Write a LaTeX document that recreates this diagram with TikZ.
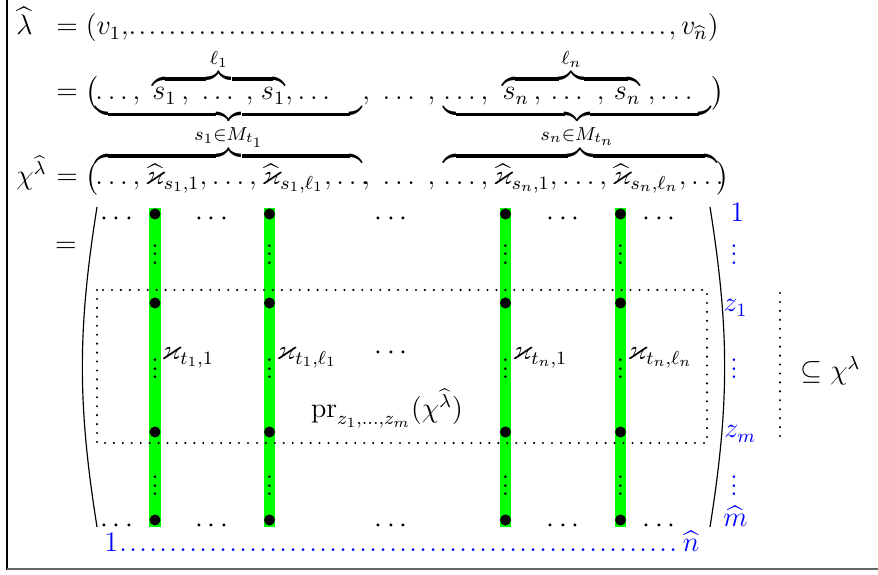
\documentclass[12pt,tikz,border=0pt]{standalone}
\usepackage{amsmath,amssymb}
\usepackage{graphicx}
\usepackage{tikz}
\usetikzlibrary{positioning,calc}
\newcommand{\dotrow}[1]{\hbox to #1{\leaders\hbox to 4.25pt{\hss.\hss}\hfill}}
\newcommand{\smallvdots}{\scalebox{0.95}{$\vdots$}}
\tikzset{
  mathrow/.style ={anchor=base west, inner sep=0pt},
  colbar/.style  ={green, line width=4.7pt},
  entry/.style   ={circle, fill=black, inner sep=0pt, minimum size=4.7pt},
  mdots/.style   ={anchor=base, inner sep=0pt},
  vdotnode/.style={inner sep=0pt},
  idxlabel/.style={text=blue, inner sep=0pt},
  boxdots/.style ={line width=1pt, line cap=round, dash pattern=on 0pt off 3.8pt},
  bigparen/.style={line width=0.5pt},
}

\begin{document}
\begin{tikzpicture}[x=0.425pt,y=-0.425pt]
  \useasboundingbox (0,0) rectangle (878,575);
  % frame
  \draw[line width=0.85pt] (7,0) -- (7,570);
  \draw[line width=0.85pt, black!60] (7,569.5) -- (878,569.5);

  % first line
  \node[mathrow] (lamhat) at (16,35) {$\widehat{\lambda}$};
  \node[mathrow] (eqA) at (56,35) {$=(v_1,$};
  \node[mathrow] (dotsA) at (127,35) {\dotrow{232pt}};
  \node[anchor=base east, inner sep=0pt] (endA) at (719,35) {$,v_{\widehat{n}})$};

  % second line
  \node[mathrow] (eqB) at (56,100) {$=\bigl($};
  \node[mathrow] (grpB1) at (95,100)
    {$\underbrace{\hbox to 113.5pt{\hbox to 24.2pt{$\dots,$\hfil}$\overbrace{\hbox to 56.5pt{$s_1\,,\;\dots$\hfil$,$\hfil$s_1$}}^{\ell_1}$\hbox to 20.4pt{\hfil$,\dots$}\hfil}}_{s_1\in M_{t_1}}$};
  \node[mathrow] (midB) at (362,100) {$,\;\dots\;,$};
  \node[mathrow] (grpB2) at (443,100)
    {$\underbrace{\hbox to 113.9pt{\hbox to 25.1pt{$\dots,$\hfil}$\overbrace{\hbox to 58.6pt{$s_n\,,$\hfil$\dots$\hfil$,$\hfil$s_n$}}^{\ell_n}$\hbox to 24.2pt{\hfil$,\dots$}\hfil}}_{s_n\in M_{t_n}}$};
  \node[mathrow] (clB) at (711,100) {$\bigr)$};

  % third line
  \node[mathrow] (chihat) at (16,185) {$\chi^{\widehat{\lambda}}$};
  \node[mathrow] (eqC) at (56,185) {$=\bigl($};
  \node[mathrow] (grpC1) at (95,185)
    {$\overbrace{\hbox to 113.5pt{$\dots,\widehat{\varkappa}_{s_1,1},\dots,\widehat{\varkappa}_{s_1,\ell_1},\dots$\hfil}}$};
  \node[mathrow] (midC) at (362,185) {$,\;\dots\;,$};
  \node[mathrow] (grpC2) at (443,185)
    {$\overbrace{\hbox to 116.5pt{$\dots,\widehat{\varkappa}_{s_n,1},\dots,\widehat{\varkappa}_{s_n,\ell_n},\dots$\hfil}}$};
  \node[mathrow] (clC) at (716,185) {$\bigr)$};

  % the matrix
  \node (eqM) at (66,247) {$=$};
  \draw[bigparen] (97,207) to[bend right=9] (97,527);
  \draw[bigparen] (710,207) to[bend left=9] (710,527);
  \foreach \x/\n in {155/1, 269.5/2, 505.5/3, 620.5/4} {
    \coordinate (top\n) at (\x,208);
    \coordinate (bot\n) at (\x,527);
    \draw[colbar] (top\n) -- (bot\n);
    \foreach \y/\s in {248/a, 362/b, 479/c}
      \node[vdotnode] (vd\n\s) at (\x,\y) {\smallvdots};
  }
  \foreach \x/\n in {119/1, 214/2, 393.5/3, 565.5/4, 661.5/5} {
    \node[mdots] (ht\n) at (\x,226) {$\cdots$};
    \node[mdots] (hb\n) at (\x,533) {$\cdots$};
  }
  \node[mdots] (hm) at (393.5,360) {$\cdots$};
  \node[mathrow] (k1) at (161,360) {$\varkappa_{t_1,1}$};
  \node[mathrow] (k2) at (276,360) {$\varkappa_{t_1,\ell_1}$};
  \node[mathrow] (k3) at (512,360) {$\varkappa_{t_n,1}$};
  \node[mathrow] (k4) at (627,360) {$\varkappa_{t_n,\ell_n}$};

  % projection box
  \draw[boxdots] (97,290) rectangle (707,443);
  \node[mdots] (proj) at (387,418) {$\mathrm{pr}_{z_1,\dots,z_m}(\chi^{\widehat{\lambda}})$};
  \foreach \x/\n in {155/1, 269.5/2, 505.5/3, 620.5/4}
    \foreach \y/\r in {214/1, 303/2, 432/3, 520/4}
      \node[entry] (e\r\n) at (\x,\y) {};

  % row and column indices
  \node[idxlabel, anchor=base west] (r1) at (730,222) {$1$};
  \node[idxlabel] (rv1) at (734,248) {\smallvdots};
  \node[idxlabel, anchor=base west] (rz1) at (723,312) {$z_1$};
  \node[idxlabel] (rv2) at (734,362) {\smallvdots};
  \node[idxlabel, anchor=base west] (rzm) at (724,438) {$z_m$};
  \node[idxlabel] (rv3) at (734,479) {\smallvdots};
  \node[idxlabel, anchor=base west] (rm) at (723,527) {$\widehat{m}$};
  \node[idxlabel, anchor=base west] (cols) at (104,552) {$1$\dotrow{240pt}$\widehat{n}$};

  \coordinate (sa) at (780,293);
  \coordinate (sb) at (780,438);
  \draw[boxdots] (sa) -- (sb);
  \node[mathrow] (sub) at (800,380) {$\subseteq\chi^{\lambda}$};
\end{tikzpicture}
\end{document}
